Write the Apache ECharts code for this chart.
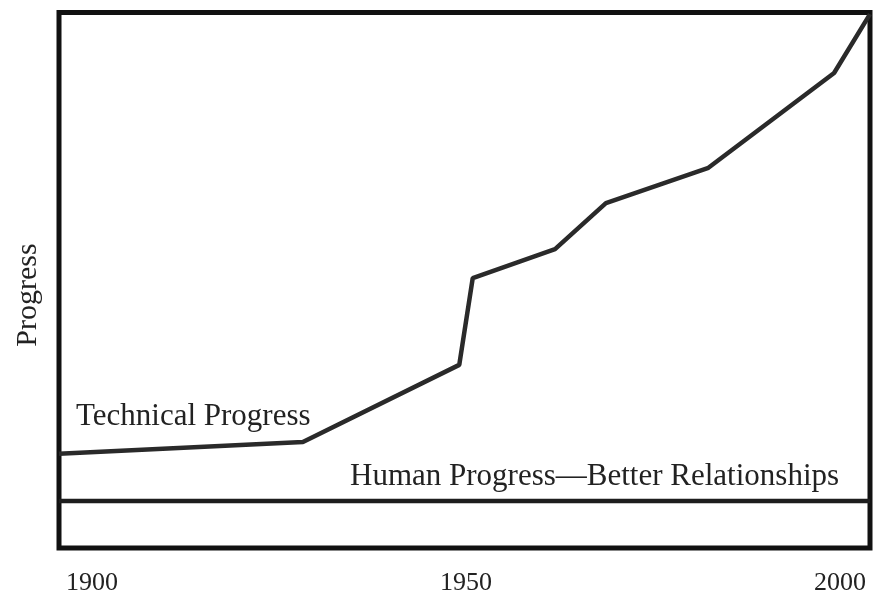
<!DOCTYPE html>
<html>
<head>
<meta charset="utf-8">
<script src="https://cdn.jsdelivr.net/npm/echarts@6/dist/echarts.min.js"></script>
<style>html,body{margin:0;padding:0;background:#fff;}#chart{width:875px;height:596px;}</style>
</head>
<body>
<div id="chart"></div>
<script>
// Data
const technicalYears = [1895.6, 1928.2, 1949.1, 1950.9, 1961.9, 1968.7, 1982.4, 1999.2, 2004.0];
const technicalValues = [17.6, 19.8, 34.2, 50.4, 55.8, 64.4, 71.0, 88.7, 99.7];
const humanYears = [1895.6, 2004.0];
const humanValues = [8.8, 8.8];
const tickYears = [1900, 1950, 2000];
const seriesNames = ['Technical Progress', 'Human Progress\u2014Better Relationships'];
const yAxisTitle = 'Progress';

const serif = '"Liberation Serif", "DejaVu Serif", serif';
const chart = echarts.init(document.getElementById('chart'), null, {renderer: 'canvas'});
chart.setOption({
  animation: false,
  backgroundColor: '#fff',
  grid: {
    left: 59, right: 5, top: 12.5, bottom: 48,
    outerBoundsMode: 'none', containLabel: false,
    show: true, borderColor: '#111', borderWidth: 5, backgroundColor: 'transparent'
  },
  xAxis: {
    type: 'value', min: 1895.6, max: 2004.0,
    axisLine: {show: false}, axisTick: {show: false}, splitLine: {show: false},
    axisLabel: {
      customValues: tickYears, margin: 22, color: '#222',
      fontFamily: serif, fontSize: 26,
      formatter: v => String(v)
    }
  },
  yAxis: {
    type: 'value', min: 0, max: 100,
    axisLine: {show: false}, axisTick: {show: false}, splitLine: {show: false},
    axisLabel: {show: false}
  },
  series: [
    {
      name: seriesNames[0], type: 'line', symbol: 'none',
      data: technicalYears.map((y, i) => [y, technicalValues[i]]),
      lineStyle: {color: '#2a2a2a', width: 4.5}, z: 3
    },
    {
      name: seriesNames[1], type: 'line', symbol: 'none',
      data: humanYears.map((y, i) => [y, humanValues[i]]),
      lineStyle: {color: '#1e1e1e', width: 4.5}, z: 3
    }
  ],
  graphic: [
    {type: 'text', x: 76, y: 417, style: {text: seriesNames[0], font: '31px ' + serif, fill: '#222', verticalAlign: 'middle'}},
    {type: 'text', x: 350, y: 477, style: {text: seriesNames[1], font: '31px ' + serif, fill: '#222', verticalAlign: 'middle'}},
    {type: 'text', x: 28, y: 295, rotation: Math.PI / 2,
      style: {text: yAxisTitle, font: '30px ' + serif, fill: '#222', align: 'center', verticalAlign: 'middle'}}
  ]
});
</script>
</body>
</html>
